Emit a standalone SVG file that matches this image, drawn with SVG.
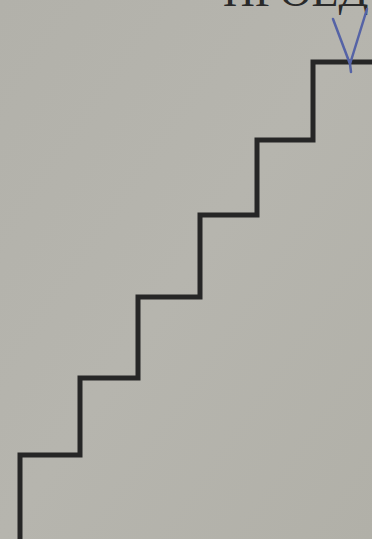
<svg xmlns="http://www.w3.org/2000/svg" width="372" height="539" viewBox="0 0 372 539">
  <defs>
    <style>
      .stair { fill: none; stroke: #262626; stroke-width: 5; stroke-linejoin: miter; stroke-linecap: butt; }
      .tick { fill: none; stroke: #5563a6; stroke-width: 2.5; stroke-linecap: round; stroke-linejoin: round; }
      .cap { font-family: "Liberation Serif", "DejaVu Serif", serif; font-size: 44px; fill: #2a2a2a; }
    </style>
    <linearGradient id="bg" x1="0" y1="0" x2="1" y2="1">
      <stop offset="0" stop-color="#b2b1aa"/>
      <stop offset="0.5" stop-color="#b6b5ae"/>
      <stop offset="1" stop-color="#b1b0a8"/>
    </linearGradient>
  </defs>
  <rect x="0" y="0" width="372" height="539" fill="url(#bg)"/>
  <g id="caption">
    <text class="cap" x="223" y="6">ПРОЕД</text>
  </g>
  <g id="staircase">
    <path class="stair" d="M20 539 V455 H80 V378 H138 V297 H200 V215 H257 V140 H313 V62 H372"/>
  </g>
  <g id="checkmark">
    <path class="tick" d="M333 19 L350 64 L367 9 M350 64 L351 72"/>
  </g>
</svg>
